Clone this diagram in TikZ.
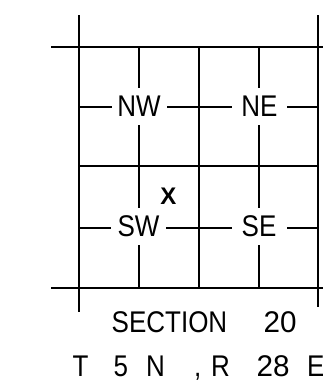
\documentclass[tikz,border=0pt]{standalone}
\usepackage{fontspec}
\setmainfont{Liberation Sans}
\newcommand{\tallbox}[1]{\scalebox{1}[1.15]{#1}}
\newcommand{\widedigits}[1]{\scalebox{1.14}[1.15]{#1}}
\begin{document}
\begin{tikzpicture}[x=1pt,y=-1pt,
  grid/.style={line width=2pt},
  quarter/.style={fill=white,inner sep=0pt,minimum width=55pt,minimum height=37pt,
    font=\fontsize{26}{26}\selectfont,text height=21.4pt,text depth=0pt},
  captxt/.style={inner sep=0pt,anchor=base west,font=\fontsize{26}{26}\selectfont}]
\useasboundingbox (0,0) rectangle (323,380);
% outer lines
\draw[grid] (79,15) -- (79,312);
\draw[grid] (318,15) -- (318,307);
\draw[grid] (51,47) -- (323,47);
\draw[grid] (51,288) -- (323,288);
% inner lines
\foreach \x in {139,199,259} \draw[grid] (\x,47) -- (\x,288);
\foreach \y in {107,166,228} \draw[grid] (79,\y) -- (318,\y);
% quarter labels
\node[quarter] (nw) at (139,106) {\tallbox{NW}};
\node[quarter] (ne) at (259.5,106) {\tallbox{NE}};
\node[quarter] (sw) at (138.5,226) {\tallbox{SW}};
\node[quarter] (se) at (259,226) {\tallbox{SE}};
\node[inner sep=0pt,font=\fontsize{24}{24}\selectfont\bfseries] (x) at (168.5,196.5) {X};
% captions
\node[captxt] (sec) at (111.5,332) {\tallbox{SECTION}};
\node[captxt] (secn) at (263.5,332) {\widedigits{20}};
\node[captxt] (t1) at (72.5,376) {\tallbox{T}};
\node[captxt] (t2) at (113.5,376) {\tallbox{5}};
\node[captxt] (t3) at (146,376) {\tallbox{N}};
\node[captxt] (t4) at (194,376) {\tallbox{,}};
\node[captxt] (t5) at (211,376) {\tallbox{R}};
\node[captxt] (t6) at (256.5,376) {\widedigits{28}};
\node[captxt] (t7) at (307,376) {\tallbox{E}};
\end{tikzpicture}
\end{document}
